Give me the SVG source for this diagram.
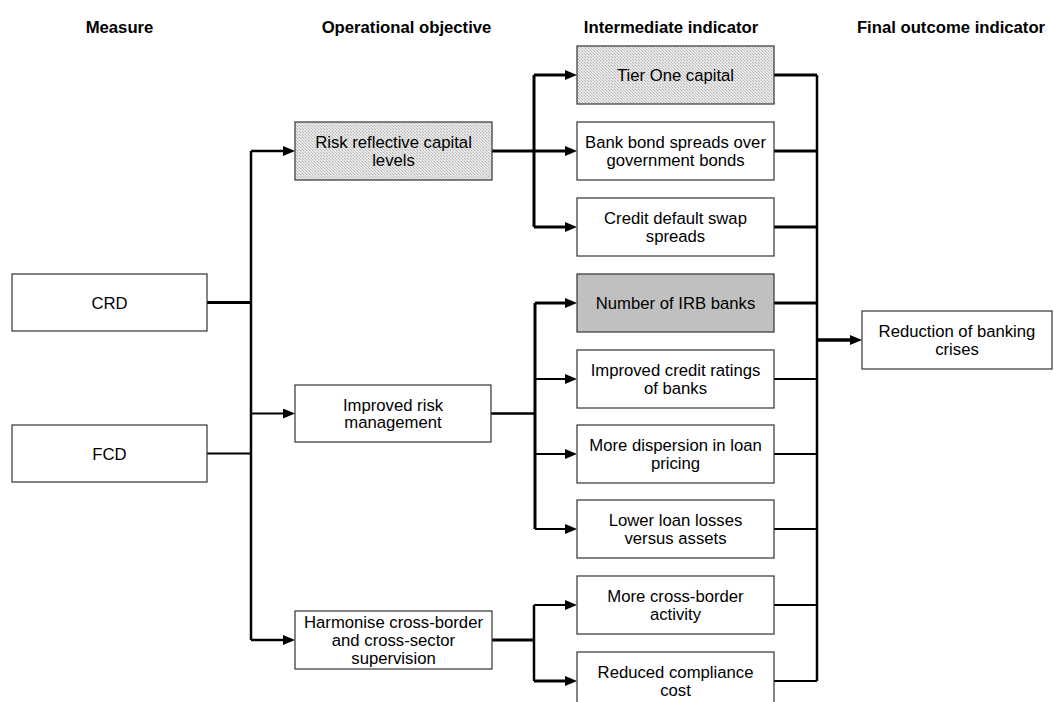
<svg xmlns="http://www.w3.org/2000/svg" width="1054" height="702" viewBox="0 0 1054 702">
<defs>
<style>
.hdr{font-family:"Liberation Sans",Arial,sans-serif;font-size:16.7px;font-weight:bold;fill:#000;text-anchor:middle}
.lbl{font-family:"Liberation Sans",Arial,sans-serif;font-size:16.7px;fill:#000;text-anchor:middle}
.box{fill:#fff;stroke:#333;stroke-width:1.2}
.hatch{fill:url(#dots);stroke:#333;stroke-width:1.2}
.grey{fill:#c0c0c0;stroke:#333;stroke-width:1.2}
.c{fill:none;stroke:#000;stroke-linejoin:miter}
.t{stroke-width:3}
.n{stroke-width:2}
.a{marker-end:url(#arr)}
</style>
<pattern id="dots" width="3" height="3" patternUnits="userSpaceOnUse">
<rect width="3" height="3" fill="#e8e8e8"/>
<rect x="0" y="0" width="1" height="1" fill="#b8b8b8"/>
<rect x="1" y="1" width="1" height="1" fill="#cfcfcf"/>
<rect x="2" y="2" width="1" height="1" fill="#b8b8b8"/>
</pattern>
<marker id="arr" markerUnits="userSpaceOnUse" markerWidth="12" markerHeight="10" refX="0" refY="5" orient="auto">
<path d="M0,0 L12,5 L0,10 z" fill="#000"/>
</marker>
</defs>
<rect width="1054" height="702" fill="#fff"/>

<g id="headers">
<text class="hdr" x="119.5" y="33">Measure</text>
<text class="hdr" x="406.5" y="33">Operational objective</text>
<text class="hdr" x="671" y="33">Intermediate indicator</text>
<text class="hdr" x="951" y="33">Final outcome indicator</text>
</g>

<g id="connectors">
<!-- measures to left bus -->
<path class="c t" d="M207,302.5 H251"/>
<path class="c n" d="M207,453.5 H251"/>
<path class="c" stroke-width="2.5" d="M251,151 V640"/>
<path class="c a" stroke-width="2.5" d="M251,151 H283"/>
<path class="c n a" d="M251,413.5 H283"/>
<path class="c a" stroke-width="2.5" d="M251,640 H283"/>
<!-- Risk reflective -->
<path class="c t" d="M492,151 H534"/>
<path class="c t" d="M534,75 V227"/>
<path class="c t a" d="M534,75 H565"/>
<path class="c t a" d="M534,151 H565"/>
<path class="c t a" d="M534,227 H565"/>
<!-- Improved risk -->
<path class="c" stroke-width="2.5" d="M491,413.5 H535"/>
<path class="c t" d="M535,303 V529"/>
<path class="c t a" d="M535,303 H565"/>
<path class="c n a" d="M535,379 H565"/>
<path class="c n a" d="M535,454 H565"/>
<path class="c n a" d="M535,529 H565"/>
<!-- Harmonise -->
<path class="c t" d="M492,640 H534"/>
<path class="c" stroke-width="2.5" d="M534,605 V681"/>
<path class="c n a" d="M534,605 H565"/>
<path class="c t a" d="M534,681 H565"/>
<!-- right bus -->
<path class="c t" d="M774,75 H817"/>
<path class="c t" d="M774,151 H817"/>
<path class="c t" d="M774,227 H817"/>
<path class="c t" d="M774,303 H817"/>
<path class="c n" d="M774,379 H817"/>
<path class="c n" d="M774,454 H817"/>
<path class="c n" d="M774,529 H817"/>
<path class="c n" d="M774,605 H817"/>
<path class="c n" d="M774,681 H817"/>
<path class="c" stroke-width="2.5" d="M817,75 V681"/>
<path class="c a" stroke-width="3.5" d="M817,340 H850"/>
</g>

<g id="crd">
<rect class="box" x="12" y="274" width="195" height="57"/>
<text class="lbl" x="109.5" y="308.5">CRD</text>
</g>
<g id="fcd">
<rect class="box" x="12" y="425" width="195" height="57"/>
<text class="lbl" x="109.5" y="459.5">FCD</text>
</g>

<g id="risk-capital">
<rect class="hatch" x="295" y="122" width="197" height="58"/>
<text class="lbl" x="393.5" y="148.2">Risk reflective capital</text>
<text class="lbl" x="393.5" y="165.9">levels</text>
</g>
<g id="risk-management">
<rect class="box" x="295" y="385" width="196" height="57"/>
<text class="lbl" x="393" y="410.7">Improved risk</text>
<text class="lbl" x="393" y="428.4">management</text>
</g>
<g id="harmonise">
<rect class="box" x="295" y="611" width="197" height="58"/>
<text class="lbl" x="393.5" y="628.3">Harmonise cross-border</text>
<text class="lbl" x="393.5" y="646">and cross-sector</text>
<text class="lbl" x="393.5" y="663.7">supervision</text>
</g>

<g id="tier-one">
<rect class="hatch" x="577" y="46" width="197" height="58"/>
<text class="lbl" x="675.5" y="81">Tier One capital</text>
</g>
<g id="bank-bond">
<rect class="box" x="577" y="122" width="197" height="58"/>
<text class="lbl" x="675.5" y="148.2">Bank bond spreads over</text>
<text class="lbl" x="675.5" y="165.9">government bonds</text>
</g>
<g id="cds">
<rect class="box" x="577" y="198" width="197" height="58"/>
<text class="lbl" x="675.5" y="224.2">Credit default swap</text>
<text class="lbl" x="675.5" y="241.9">spreads</text>
</g>
<g id="irb">
<rect class="grey" x="577" y="274" width="197" height="58"/>
<text class="lbl" x="675.5" y="309">Number of IRB banks</text>
</g>
<g id="ratings">
<rect class="box" x="577" y="350" width="197" height="58"/>
<text class="lbl" x="675.5" y="376.2">Improved credit ratings</text>
<text class="lbl" x="675.5" y="393.9">of banks</text>
</g>
<g id="dispersion">
<rect class="box" x="577" y="425" width="197" height="58"/>
<text class="lbl" x="675.5" y="451.2">More dispersion in loan</text>
<text class="lbl" x="675.5" y="468.9">pricing</text>
</g>
<g id="loan-losses">
<rect class="box" x="577" y="500" width="197" height="58"/>
<text class="lbl" x="675.5" y="526.2">Lower loan losses</text>
<text class="lbl" x="675.5" y="543.9">versus assets</text>
</g>
<g id="cross-border">
<rect class="box" x="577" y="576" width="197" height="58"/>
<text class="lbl" x="675.5" y="602.2">More cross-border</text>
<text class="lbl" x="675.5" y="619.9">activity</text>
</g>
<g id="compliance">
<rect class="box" x="577" y="652" width="197" height="58"/>
<text class="lbl" x="675.5" y="678.2">Reduced compliance</text>
<text class="lbl" x="675.5" y="695.9">cost</text>
</g>

<g id="reduction">
<rect class="box" x="862" y="311" width="190" height="58"/>
<text class="lbl" x="957" y="337.2">Reduction of banking</text>
<text class="lbl" x="957" y="354.9">crises</text>
</g>
</svg>
